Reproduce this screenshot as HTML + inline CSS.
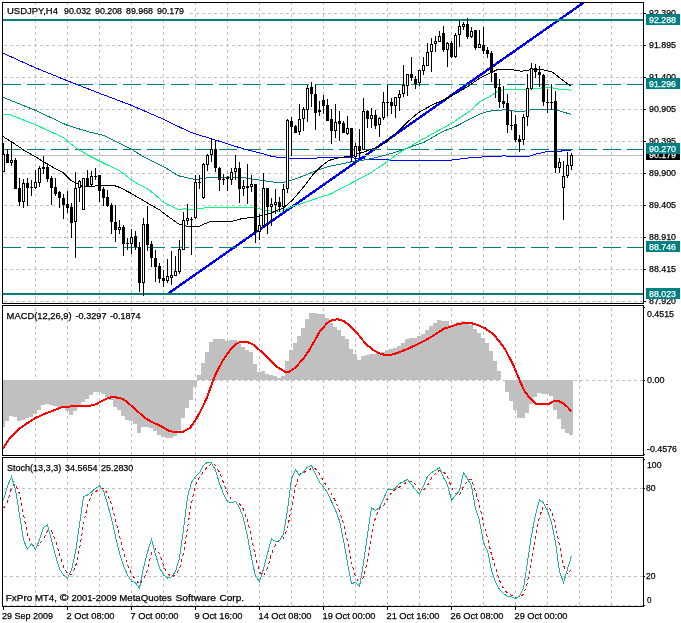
<!DOCTYPE html>
<html><head><meta charset="utf-8"><title>USDJPY,H4</title>
<style>html,body{margin:0;padding:0;background:#fff;overflow:hidden}svg text{white-space:pre;will-change:transform;stroke-width:.25px}</style></head>
<body>
<svg width="681" height="623" viewBox="0 0 681 623" shape-rendering="crispEdges" font-family="'Liberation Sans', sans-serif" style="display:block">
<rect x="0" y="0" width="681" height="623" fill="#fff"/>
<line x1="35.5" x2="35.5" y1="3" y2="303" stroke="#c0c0c0" stroke-dasharray="3 3" stroke-dashoffset="1"/>
<line x1="67.5" x2="67.5" y1="3" y2="303" stroke="#c0c0c0" stroke-dasharray="3 3" stroke-dashoffset="1"/>
<line x1="99.5" x2="99.5" y1="3" y2="303" stroke="#c0c0c0" stroke-dasharray="3 3" stroke-dashoffset="1"/>
<line x1="131.5" x2="131.5" y1="3" y2="303" stroke="#c0c0c0" stroke-dasharray="3 3" stroke-dashoffset="1"/>
<line x1="163.5" x2="163.5" y1="3" y2="303" stroke="#c0c0c0" stroke-dasharray="3 3" stroke-dashoffset="1"/>
<line x1="195.5" x2="195.5" y1="3" y2="303" stroke="#c0c0c0" stroke-dasharray="3 3" stroke-dashoffset="1"/>
<line x1="227.5" x2="227.5" y1="3" y2="303" stroke="#c0c0c0" stroke-dasharray="3 3" stroke-dashoffset="1"/>
<line x1="259.5" x2="259.5" y1="3" y2="303" stroke="#c0c0c0" stroke-dasharray="3 3" stroke-dashoffset="1"/>
<line x1="291.5" x2="291.5" y1="3" y2="303" stroke="#c0c0c0" stroke-dasharray="3 3" stroke-dashoffset="1"/>
<line x1="323.5" x2="323.5" y1="3" y2="303" stroke="#c0c0c0" stroke-dasharray="3 3" stroke-dashoffset="1"/>
<line x1="355.5" x2="355.5" y1="3" y2="303" stroke="#c0c0c0" stroke-dasharray="3 3" stroke-dashoffset="1"/>
<line x1="387.5" x2="387.5" y1="3" y2="303" stroke="#c0c0c0" stroke-dasharray="3 3" stroke-dashoffset="1"/>
<line x1="419.5" x2="419.5" y1="3" y2="303" stroke="#c0c0c0" stroke-dasharray="3 3" stroke-dashoffset="1"/>
<line x1="451.5" x2="451.5" y1="3" y2="303" stroke="#c0c0c0" stroke-dasharray="3 3" stroke-dashoffset="1"/>
<line x1="483.5" x2="483.5" y1="3" y2="303" stroke="#c0c0c0" stroke-dasharray="3 3" stroke-dashoffset="1"/>
<line x1="515.5" x2="515.5" y1="3" y2="303" stroke="#c0c0c0" stroke-dasharray="3 3" stroke-dashoffset="1"/>
<line x1="547.5" x2="547.5" y1="3" y2="303" stroke="#c0c0c0" stroke-dasharray="3 3" stroke-dashoffset="1"/>
<line x1="579.5" x2="579.5" y1="3" y2="303" stroke="#c0c0c0" stroke-dasharray="3 3" stroke-dashoffset="1"/>
<line x1="611.5" x2="611.5" y1="3" y2="303" stroke="#c0c0c0" stroke-dasharray="3 3" stroke-dashoffset="1"/>
<line x1="35.5" x2="35.5" y1="306" y2="455" stroke="#c0c0c0" stroke-dasharray="3 3" stroke-dashoffset="4"/>
<line x1="67.5" x2="67.5" y1="306" y2="455" stroke="#c0c0c0" stroke-dasharray="3 3" stroke-dashoffset="4"/>
<line x1="99.5" x2="99.5" y1="306" y2="455" stroke="#c0c0c0" stroke-dasharray="3 3" stroke-dashoffset="4"/>
<line x1="131.5" x2="131.5" y1="306" y2="455" stroke="#c0c0c0" stroke-dasharray="3 3" stroke-dashoffset="4"/>
<line x1="163.5" x2="163.5" y1="306" y2="455" stroke="#c0c0c0" stroke-dasharray="3 3" stroke-dashoffset="4"/>
<line x1="195.5" x2="195.5" y1="306" y2="455" stroke="#c0c0c0" stroke-dasharray="3 3" stroke-dashoffset="4"/>
<line x1="227.5" x2="227.5" y1="306" y2="455" stroke="#c0c0c0" stroke-dasharray="3 3" stroke-dashoffset="4"/>
<line x1="259.5" x2="259.5" y1="306" y2="455" stroke="#c0c0c0" stroke-dasharray="3 3" stroke-dashoffset="4"/>
<line x1="291.5" x2="291.5" y1="306" y2="455" stroke="#c0c0c0" stroke-dasharray="3 3" stroke-dashoffset="4"/>
<line x1="323.5" x2="323.5" y1="306" y2="455" stroke="#c0c0c0" stroke-dasharray="3 3" stroke-dashoffset="4"/>
<line x1="355.5" x2="355.5" y1="306" y2="455" stroke="#c0c0c0" stroke-dasharray="3 3" stroke-dashoffset="4"/>
<line x1="387.5" x2="387.5" y1="306" y2="455" stroke="#c0c0c0" stroke-dasharray="3 3" stroke-dashoffset="4"/>
<line x1="419.5" x2="419.5" y1="306" y2="455" stroke="#c0c0c0" stroke-dasharray="3 3" stroke-dashoffset="4"/>
<line x1="451.5" x2="451.5" y1="306" y2="455" stroke="#c0c0c0" stroke-dasharray="3 3" stroke-dashoffset="4"/>
<line x1="483.5" x2="483.5" y1="306" y2="455" stroke="#c0c0c0" stroke-dasharray="3 3" stroke-dashoffset="4"/>
<line x1="515.5" x2="515.5" y1="306" y2="455" stroke="#c0c0c0" stroke-dasharray="3 3" stroke-dashoffset="4"/>
<line x1="547.5" x2="547.5" y1="306" y2="455" stroke="#c0c0c0" stroke-dasharray="3 3" stroke-dashoffset="4"/>
<line x1="579.5" x2="579.5" y1="306" y2="455" stroke="#c0c0c0" stroke-dasharray="3 3" stroke-dashoffset="4"/>
<line x1="611.5" x2="611.5" y1="306" y2="455" stroke="#c0c0c0" stroke-dasharray="3 3" stroke-dashoffset="4"/>
<line x1="35.5" x2="35.5" y1="458" y2="606" stroke="#c0c0c0" stroke-dasharray="3 3" stroke-dashoffset="0"/>
<line x1="67.5" x2="67.5" y1="458" y2="606" stroke="#c0c0c0" stroke-dasharray="3 3" stroke-dashoffset="0"/>
<line x1="99.5" x2="99.5" y1="458" y2="606" stroke="#c0c0c0" stroke-dasharray="3 3" stroke-dashoffset="0"/>
<line x1="131.5" x2="131.5" y1="458" y2="606" stroke="#c0c0c0" stroke-dasharray="3 3" stroke-dashoffset="0"/>
<line x1="163.5" x2="163.5" y1="458" y2="606" stroke="#c0c0c0" stroke-dasharray="3 3" stroke-dashoffset="0"/>
<line x1="195.5" x2="195.5" y1="458" y2="606" stroke="#c0c0c0" stroke-dasharray="3 3" stroke-dashoffset="0"/>
<line x1="227.5" x2="227.5" y1="458" y2="606" stroke="#c0c0c0" stroke-dasharray="3 3" stroke-dashoffset="0"/>
<line x1="259.5" x2="259.5" y1="458" y2="606" stroke="#c0c0c0" stroke-dasharray="3 3" stroke-dashoffset="0"/>
<line x1="291.5" x2="291.5" y1="458" y2="606" stroke="#c0c0c0" stroke-dasharray="3 3" stroke-dashoffset="0"/>
<line x1="323.5" x2="323.5" y1="458" y2="606" stroke="#c0c0c0" stroke-dasharray="3 3" stroke-dashoffset="0"/>
<line x1="355.5" x2="355.5" y1="458" y2="606" stroke="#c0c0c0" stroke-dasharray="3 3" stroke-dashoffset="0"/>
<line x1="387.5" x2="387.5" y1="458" y2="606" stroke="#c0c0c0" stroke-dasharray="3 3" stroke-dashoffset="0"/>
<line x1="419.5" x2="419.5" y1="458" y2="606" stroke="#c0c0c0" stroke-dasharray="3 3" stroke-dashoffset="0"/>
<line x1="451.5" x2="451.5" y1="458" y2="606" stroke="#c0c0c0" stroke-dasharray="3 3" stroke-dashoffset="0"/>
<line x1="483.5" x2="483.5" y1="458" y2="606" stroke="#c0c0c0" stroke-dasharray="3 3" stroke-dashoffset="0"/>
<line x1="515.5" x2="515.5" y1="458" y2="606" stroke="#c0c0c0" stroke-dasharray="3 3" stroke-dashoffset="0"/>
<line x1="547.5" x2="547.5" y1="458" y2="606" stroke="#c0c0c0" stroke-dasharray="3 3" stroke-dashoffset="0"/>
<line x1="579.5" x2="579.5" y1="458" y2="606" stroke="#c0c0c0" stroke-dasharray="3 3" stroke-dashoffset="0"/>
<line x1="611.5" x2="611.5" y1="458" y2="606" stroke="#c0c0c0" stroke-dasharray="3 3" stroke-dashoffset="0"/>
<line x1="4" x2="643" y1="13.5" y2="13.5" stroke="#c0c0c0" stroke-dasharray="3 3"/>
<line x1="4" x2="643" y1="45.5" y2="45.5" stroke="#c0c0c0" stroke-dasharray="3 3"/>
<line x1="4" x2="643" y1="77.5" y2="77.5" stroke="#c0c0c0" stroke-dasharray="3 3"/>
<line x1="4" x2="643" y1="109.5" y2="109.5" stroke="#c0c0c0" stroke-dasharray="3 3"/>
<line x1="4" x2="643" y1="141.5" y2="141.5" stroke="#c0c0c0" stroke-dasharray="3 3"/>
<line x1="4" x2="643" y1="173.5" y2="173.5" stroke="#c0c0c0" stroke-dasharray="3 3"/>
<line x1="4" x2="643" y1="205.5" y2="205.5" stroke="#c0c0c0" stroke-dasharray="3 3"/>
<line x1="4" x2="643" y1="237.5" y2="237.5" stroke="#c0c0c0" stroke-dasharray="3 3"/>
<line x1="4" x2="643" y1="269.5" y2="269.5" stroke="#c0c0c0" stroke-dasharray="3 3"/>
<line x1="4" x2="643" y1="301.5" y2="301.5" stroke="#c0c0c0" stroke-dasharray="3 3"/>
<line x1="4" x2="643" y1="380.5" y2="380.5" stroke="#c0c0c0" stroke-dasharray="3 3"/>
<line x1="4" x2="643" y1="488.5" y2="488.5" stroke="#c0c0c0" stroke-dasharray="3 3"/>
<line x1="4" x2="643" y1="576.5" y2="576.5" stroke="#c0c0c0" stroke-dasharray="3 3"/>
<line x1="4" x2="643" y1="605.5" y2="605.5" stroke="#c0c0c0" stroke-dasharray="3 3"/>
<clipPath id="cm"><rect x="3" y="3" width="640" height="300"/></clipPath>
<g clip-path="url(#cm)">
<line x1="168.7" y1="293.2" x2="583.4" y2="2.8" stroke="#0000ff" stroke-width="2.4"/>
<rect x="3" y="155" width="640" height="1" fill="#c0c0c0"/>
<rect x="3" y="19" width="640" height="2" fill="#008080"/>
<rect x="3" y="293" width="640" height="2" fill="#008080"/>
<line x1="3" x2="643" y1="84.5" y2="84.5" stroke="#008080" stroke-dasharray="18 6"/>
<line x1="3" x2="643" y1="149.5" y2="149.5" stroke="#008080" stroke-dasharray="18 6"/>
<line x1="3" x2="643" y1="247.5" y2="247.5" stroke="#008080" stroke-dasharray="18 6"/>
<polyline points="2.5,53.0 35.0,67.6 67.0,80.6 99.0,93.1 131.0,105.2 163.0,119.0 170.0,122.7 186.0,130.0 190.0,132.2 211.8,138.9 243.5,148.9 259.8,152.9 271.6,156.3 280.0,157.6 297.6,158.5 333.0,157.6 350.0,157.6 368.0,159.3 388.8,160.0 452.0,160.0 471.0,157.6 490.0,156.6 501.0,156.6 502.5,155.5 505.4,155.5 507.0,156.6 528.2,156.6 534.0,154.6 541.4,152.8 547.3,151.5 554.6,151.3 571.0,150.6" fill="none" stroke="#0000ff" stroke-width="1"/>
<polyline points="2.5,97.1 35.0,110.2 67.0,125.2 90.0,132.2 103.3,135.2 116.6,141.8 131.4,149.2 143.2,156.6 163.9,166.9 178.6,175.8 190.0,178.4 194.8,179.5 209.5,177.6 228.7,177.0 243.5,177.6 259.8,180.2 274.3,182.2 284.7,182.2 296.5,178.5 308.3,174.0 318.6,169.6 329.3,166.4 350.5,162.0 368.0,159.4 385.7,155.0 393.5,152.9 424.0,142.3 442.4,131.6 455.7,126.5 470.0,119.0 480.0,114.1 488.9,111.2 505.1,109.7 519.9,111.9 533.2,109.4 545.0,109.0 558.3,110.4 571.0,114.4" fill="none" stroke="#008080" stroke-width="1"/>
<polyline points="2.5,114.7 10.0,114.7 35.0,124.5 63.5,137.6 76.8,148.5 90.0,156.3 104.8,163.7 119.5,170.6 132.8,181.0 149.0,189.8 163.9,202.4 178.6,209.8 184.5,208.8 190.0,209.8 194.8,209.0 209.5,207.5 227.3,208.0 243.5,207.5 253.9,207.5 262.7,209.8 271.6,211.2 281.7,211.0 292.0,206.5 303.9,202.8 318.6,197.7 330.0,194.3 368.0,174.4 385.7,162.9 400.0,152.3 419.3,141.1 436.5,131.6 452.7,122.7 470.0,110.9 480.0,101.6 488.9,97.1 497.7,91.2 505.1,89.3 521.4,89.8 536.1,88.3 550.9,87.5 559.8,89.3 571.0,90.2" fill="none" stroke="#00ff7f" stroke-width="1"/>
<polyline points="2.0,136.0 13.0,142.7 23.6,150.0 35.5,156.8 47.0,164.0 63.5,173.0 71.0,180.4 77.0,183.3 83.0,187.0 90.0,186.9 98.9,185.4 113.6,185.4 119.5,187.3 131.4,193.5 149.0,203.9 159.4,209.8 168.4,216.6 178.7,224.0 183.2,224.8 189.0,227.0 199.4,226.2 210.5,221.3 231.7,221.3 242.0,218.6 253.9,217.1 264.0,215.4 274.3,211.7 283.2,208.0 292.0,200.6 303.9,186.6 312.7,174.8 321.6,165.9 329.3,160.3 340.0,157.6 350.5,156.2 362.8,152.3 375.2,147.9 385.7,142.6 398.0,131.3 408.4,121.2 418.7,112.4 432.0,105.0 443.9,99.8 452.7,95.4 461.6,90.2 470.0,85.1 480.0,77.9 487.4,74.2 497.7,69.5 509.5,69.1 521.4,71.3 530.2,69.8 542.0,69.5 552.4,72.0 562.7,80.2 571.0,86.1" fill="none" stroke="#000" stroke-width="1"/>
<rect x="3" y="143" width="1" height="29" fill="#000"/>
<rect x="2" y="154" width="3" height="18" fill="#000"/>
<rect x="3" y="155" width="1" height="16" fill="#fff"/>
<rect x="7" y="149" width="1" height="14" fill="#000"/>
<rect x="6" y="154" width="3" height="9" fill="#000"/>
<rect x="11" y="142" width="1" height="24" fill="#000"/>
<rect x="10" y="160" width="3" height="3" fill="#000"/>
<rect x="11" y="161" width="1" height="1" fill="#fff"/>
<rect x="15" y="158" width="1" height="31" fill="#000"/>
<rect x="14" y="160" width="3" height="29" fill="#000"/>
<rect x="19" y="178" width="1" height="28" fill="#000"/>
<rect x="18" y="188" width="3" height="14" fill="#000"/>
<rect x="23" y="179" width="1" height="29" fill="#000"/>
<rect x="22" y="183" width="3" height="19" fill="#000"/>
<rect x="23" y="184" width="1" height="17" fill="#fff"/>
<rect x="27" y="178" width="1" height="28" fill="#000"/>
<rect x="26" y="183" width="3" height="5" fill="#000"/>
<rect x="31" y="180" width="1" height="16" fill="#000"/>
<rect x="30" y="187" width="3" height="1" fill="#000"/>
<rect x="35" y="170" width="1" height="19" fill="#000"/>
<rect x="34" y="182" width="3" height="6" fill="#000"/>
<rect x="35" y="183" width="1" height="4" fill="#fff"/>
<rect x="39" y="166" width="1" height="21" fill="#000"/>
<rect x="38" y="168" width="3" height="15" fill="#000"/>
<rect x="39" y="169" width="1" height="13" fill="#fff"/>
<rect x="43" y="156" width="1" height="18" fill="#000"/>
<rect x="42" y="167" width="3" height="2" fill="#000"/>
<rect x="47" y="163" width="1" height="19" fill="#000"/>
<rect x="46" y="167" width="3" height="12" fill="#000"/>
<rect x="51" y="176" width="1" height="29" fill="#000"/>
<rect x="50" y="178" width="3" height="10" fill="#000"/>
<rect x="55" y="178" width="1" height="18" fill="#000"/>
<rect x="54" y="187" width="3" height="7" fill="#000"/>
<rect x="59" y="191" width="1" height="17" fill="#000"/>
<rect x="58" y="192" width="3" height="6" fill="#000"/>
<rect x="63" y="194" width="1" height="25" fill="#000"/>
<rect x="62" y="198" width="3" height="7" fill="#000"/>
<rect x="67" y="191" width="1" height="22" fill="#000"/>
<rect x="66" y="204" width="3" height="4" fill="#000"/>
<rect x="71" y="203" width="1" height="35" fill="#000"/>
<rect x="70" y="207" width="3" height="16" fill="#000"/>
<rect x="75" y="172" width="1" height="86" fill="#000"/>
<rect x="74" y="188" width="3" height="34" fill="#000"/>
<rect x="75" y="189" width="1" height="32" fill="#fff"/>
<rect x="79" y="180" width="1" height="22" fill="#000"/>
<rect x="78" y="181" width="3" height="7" fill="#000"/>
<rect x="79" y="182" width="1" height="5" fill="#fff"/>
<rect x="83" y="178" width="1" height="32" fill="#000"/>
<rect x="82" y="178" width="3" height="32" fill="#000"/>
<rect x="83" y="179" width="1" height="30" fill="#fff"/>
<rect x="87" y="170" width="1" height="16" fill="#000"/>
<rect x="86" y="178" width="3" height="8" fill="#000"/>
<rect x="91" y="171" width="1" height="15" fill="#000"/>
<rect x="90" y="176" width="3" height="9" fill="#000"/>
<rect x="91" y="177" width="1" height="7" fill="#fff"/>
<rect x="95" y="168" width="1" height="12" fill="#000"/>
<rect x="94" y="176" width="3" height="1" fill="#000"/>
<rect x="99" y="175" width="1" height="27" fill="#000"/>
<rect x="98" y="175" width="3" height="16" fill="#000"/>
<rect x="103" y="187" width="1" height="19" fill="#000"/>
<rect x="102" y="189" width="3" height="9" fill="#000"/>
<rect x="107" y="190" width="1" height="17" fill="#000"/>
<rect x="106" y="197" width="3" height="9" fill="#000"/>
<rect x="111" y="203" width="1" height="31" fill="#000"/>
<rect x="110" y="205" width="3" height="17" fill="#000"/>
<rect x="115" y="205" width="1" height="37" fill="#000"/>
<rect x="114" y="222" width="3" height="8" fill="#000"/>
<rect x="119" y="220" width="1" height="14" fill="#000"/>
<rect x="118" y="227" width="3" height="3" fill="#000"/>
<rect x="119" y="228" width="1" height="1" fill="#fff"/>
<rect x="123" y="225" width="1" height="31" fill="#000"/>
<rect x="122" y="227" width="3" height="17" fill="#000"/>
<rect x="127" y="238" width="1" height="12" fill="#000"/>
<rect x="126" y="243" width="3" height="1" fill="#000"/>
<rect x="131" y="229" width="1" height="25" fill="#000"/>
<rect x="130" y="237" width="3" height="7" fill="#000"/>
<rect x="131" y="238" width="1" height="5" fill="#fff"/>
<rect x="135" y="231" width="1" height="19" fill="#000"/>
<rect x="134" y="236" width="3" height="11" fill="#000"/>
<rect x="139" y="242" width="1" height="50" fill="#000"/>
<rect x="138" y="247" width="3" height="36" fill="#000"/>
<rect x="143" y="218" width="1" height="78" fill="#000"/>
<rect x="142" y="224" width="3" height="59" fill="#000"/>
<rect x="143" y="225" width="1" height="57" fill="#fff"/>
<rect x="147" y="206" width="1" height="45" fill="#000"/>
<rect x="146" y="224" width="3" height="21" fill="#000"/>
<rect x="151" y="241" width="1" height="26" fill="#000"/>
<rect x="150" y="244" width="3" height="14" fill="#000"/>
<rect x="155" y="250" width="1" height="32" fill="#000"/>
<rect x="154" y="258" width="3" height="9" fill="#000"/>
<rect x="159" y="263" width="1" height="20" fill="#000"/>
<rect x="158" y="266" width="3" height="13" fill="#000"/>
<rect x="163" y="270" width="1" height="17" fill="#000"/>
<rect x="162" y="278" width="3" height="3" fill="#000"/>
<rect x="167" y="259" width="1" height="24" fill="#000"/>
<rect x="166" y="276" width="3" height="5" fill="#000"/>
<rect x="167" y="277" width="1" height="3" fill="#fff"/>
<rect x="171" y="251" width="1" height="34" fill="#000"/>
<rect x="170" y="275" width="3" height="3" fill="#000"/>
<rect x="171" y="276" width="1" height="1" fill="#fff"/>
<rect x="175" y="256" width="1" height="20" fill="#000"/>
<rect x="174" y="271" width="3" height="5" fill="#000"/>
<rect x="175" y="272" width="1" height="3" fill="#fff"/>
<rect x="179" y="240" width="1" height="34" fill="#000"/>
<rect x="178" y="249" width="3" height="23" fill="#000"/>
<rect x="179" y="250" width="1" height="21" fill="#fff"/>
<rect x="183" y="212" width="1" height="38" fill="#000"/>
<rect x="182" y="220" width="3" height="30" fill="#000"/>
<rect x="183" y="221" width="1" height="28" fill="#fff"/>
<rect x="187" y="204" width="1" height="21" fill="#000"/>
<rect x="186" y="218" width="3" height="3" fill="#000"/>
<rect x="187" y="219" width="1" height="1" fill="#fff"/>
<rect x="191" y="217" width="1" height="38" fill="#000"/>
<rect x="190" y="219" width="3" height="1" fill="#000"/>
<rect x="195" y="175" width="1" height="44" fill="#000"/>
<rect x="194" y="182" width="3" height="36" fill="#000"/>
<rect x="195" y="183" width="1" height="34" fill="#fff"/>
<rect x="199" y="175" width="1" height="14" fill="#000"/>
<rect x="198" y="182" width="3" height="1" fill="#000"/>
<rect x="203" y="163" width="1" height="36" fill="#000"/>
<rect x="202" y="164" width="3" height="34" fill="#000"/>
<rect x="203" y="165" width="1" height="32" fill="#fff"/>
<rect x="207" y="154" width="1" height="17" fill="#000"/>
<rect x="206" y="155" width="3" height="10" fill="#000"/>
<rect x="207" y="156" width="1" height="8" fill="#fff"/>
<rect x="211" y="138" width="1" height="24" fill="#000"/>
<rect x="210" y="149" width="3" height="6" fill="#000"/>
<rect x="211" y="150" width="1" height="4" fill="#fff"/>
<rect x="215" y="140" width="1" height="32" fill="#000"/>
<rect x="214" y="149" width="3" height="19" fill="#000"/>
<rect x="219" y="167" width="1" height="24" fill="#000"/>
<rect x="218" y="168" width="3" height="12" fill="#000"/>
<rect x="223" y="174" width="1" height="11" fill="#000"/>
<rect x="222" y="179" width="3" height="1" fill="#000"/>
<rect x="227" y="176" width="1" height="15" fill="#000"/>
<rect x="226" y="177" width="3" height="2" fill="#000"/>
<rect x="231" y="168" width="1" height="17" fill="#000"/>
<rect x="230" y="172" width="3" height="8" fill="#000"/>
<rect x="231" y="173" width="1" height="6" fill="#fff"/>
<rect x="235" y="155" width="1" height="25" fill="#000"/>
<rect x="234" y="168" width="3" height="4" fill="#000"/>
<rect x="235" y="169" width="1" height="2" fill="#fff"/>
<rect x="239" y="162" width="1" height="41" fill="#000"/>
<rect x="238" y="168" width="3" height="21" fill="#000"/>
<rect x="243" y="180" width="1" height="16" fill="#000"/>
<rect x="242" y="186" width="3" height="3" fill="#000"/>
<rect x="243" y="187" width="1" height="1" fill="#fff"/>
<rect x="247" y="164" width="1" height="40" fill="#000"/>
<rect x="246" y="186" width="3" height="2" fill="#000"/>
<rect x="251" y="175" width="1" height="17" fill="#000"/>
<rect x="250" y="184" width="3" height="3" fill="#000"/>
<rect x="251" y="185" width="1" height="1" fill="#fff"/>
<rect x="255" y="184" width="1" height="59" fill="#000"/>
<rect x="254" y="184" width="3" height="48" fill="#000"/>
<rect x="259" y="214" width="1" height="26" fill="#000"/>
<rect x="258" y="225" width="3" height="7" fill="#000"/>
<rect x="259" y="226" width="1" height="5" fill="#fff"/>
<rect x="263" y="173" width="1" height="55" fill="#000"/>
<rect x="262" y="188" width="3" height="38" fill="#000"/>
<rect x="263" y="189" width="1" height="36" fill="#fff"/>
<rect x="267" y="188" width="1" height="46" fill="#000"/>
<rect x="266" y="188" width="3" height="19" fill="#000"/>
<rect x="271" y="198" width="1" height="28" fill="#000"/>
<rect x="270" y="204" width="3" height="3" fill="#000"/>
<rect x="271" y="205" width="1" height="1" fill="#fff"/>
<rect x="275" y="189" width="1" height="25" fill="#000"/>
<rect x="274" y="202" width="3" height="3" fill="#000"/>
<rect x="275" y="203" width="1" height="1" fill="#fff"/>
<rect x="279" y="197" width="1" height="15" fill="#000"/>
<rect x="278" y="202" width="3" height="5" fill="#000"/>
<rect x="283" y="184" width="1" height="27" fill="#000"/>
<rect x="282" y="189" width="3" height="18" fill="#000"/>
<rect x="283" y="190" width="1" height="16" fill="#fff"/>
<rect x="287" y="119" width="1" height="74" fill="#000"/>
<rect x="286" y="120" width="3" height="69" fill="#000"/>
<rect x="287" y="121" width="1" height="67" fill="#fff"/>
<rect x="291" y="117" width="1" height="39" fill="#000"/>
<rect x="290" y="121" width="3" height="6" fill="#000"/>
<rect x="295" y="125" width="1" height="8" fill="#000"/>
<rect x="294" y="126" width="3" height="7" fill="#000"/>
<rect x="299" y="104" width="1" height="31" fill="#000"/>
<rect x="298" y="119" width="3" height="13" fill="#000"/>
<rect x="299" y="120" width="1" height="11" fill="#fff"/>
<rect x="303" y="107" width="1" height="24" fill="#000"/>
<rect x="302" y="109" width="3" height="10" fill="#000"/>
<rect x="303" y="110" width="1" height="8" fill="#fff"/>
<rect x="307" y="85" width="1" height="37" fill="#000"/>
<rect x="306" y="88" width="3" height="22" fill="#000"/>
<rect x="307" y="89" width="1" height="20" fill="#fff"/>
<rect x="311" y="82" width="1" height="25" fill="#000"/>
<rect x="310" y="87" width="3" height="7" fill="#000"/>
<rect x="315" y="85" width="1" height="45" fill="#000"/>
<rect x="314" y="94" width="3" height="19" fill="#000"/>
<rect x="319" y="101" width="1" height="15" fill="#000"/>
<rect x="318" y="110" width="3" height="2" fill="#000"/>
<rect x="323" y="95" width="1" height="19" fill="#000"/>
<rect x="322" y="100" width="3" height="6" fill="#000"/>
<rect x="327" y="99" width="1" height="22" fill="#000"/>
<rect x="326" y="105" width="3" height="16" fill="#000"/>
<rect x="331" y="109" width="1" height="35" fill="#000"/>
<rect x="330" y="119" width="3" height="12" fill="#000"/>
<rect x="335" y="104" width="1" height="34" fill="#000"/>
<rect x="334" y="122" width="3" height="9" fill="#000"/>
<rect x="335" y="123" width="1" height="7" fill="#fff"/>
<rect x="339" y="111" width="1" height="30" fill="#000"/>
<rect x="338" y="121" width="3" height="3" fill="#000"/>
<rect x="343" y="121" width="1" height="12" fill="#000"/>
<rect x="342" y="123" width="3" height="10" fill="#000"/>
<rect x="347" y="116" width="1" height="19" fill="#000"/>
<rect x="346" y="128" width="3" height="6" fill="#000"/>
<rect x="347" y="129" width="1" height="4" fill="#fff"/>
<rect x="351" y="128" width="1" height="34" fill="#000"/>
<rect x="350" y="128" width="3" height="29" fill="#000"/>
<rect x="355" y="143" width="1" height="20" fill="#000"/>
<rect x="354" y="146" width="3" height="11" fill="#000"/>
<rect x="355" y="147" width="1" height="9" fill="#fff"/>
<rect x="359" y="129" width="1" height="29" fill="#000"/>
<rect x="358" y="146" width="3" height="5" fill="#000"/>
<rect x="363" y="98" width="1" height="52" fill="#000"/>
<rect x="362" y="111" width="3" height="39" fill="#000"/>
<rect x="363" y="112" width="1" height="37" fill="#fff"/>
<rect x="367" y="110" width="1" height="18" fill="#000"/>
<rect x="366" y="111" width="3" height="8" fill="#000"/>
<rect x="371" y="108" width="1" height="20" fill="#000"/>
<rect x="370" y="115" width="3" height="4" fill="#000"/>
<rect x="371" y="116" width="1" height="2" fill="#fff"/>
<rect x="375" y="110" width="1" height="19" fill="#000"/>
<rect x="374" y="115" width="3" height="11" fill="#000"/>
<rect x="379" y="117" width="1" height="20" fill="#000"/>
<rect x="378" y="118" width="3" height="7" fill="#000"/>
<rect x="379" y="119" width="1" height="5" fill="#fff"/>
<rect x="383" y="92" width="1" height="28" fill="#000"/>
<rect x="382" y="102" width="3" height="16" fill="#000"/>
<rect x="383" y="103" width="1" height="14" fill="#fff"/>
<rect x="387" y="85" width="1" height="31" fill="#000"/>
<rect x="386" y="102" width="3" height="1" fill="#000"/>
<rect x="391" y="98" width="1" height="16" fill="#000"/>
<rect x="390" y="102" width="3" height="4" fill="#000"/>
<rect x="395" y="97" width="1" height="21" fill="#000"/>
<rect x="394" y="97" width="3" height="9" fill="#000"/>
<rect x="395" y="98" width="1" height="7" fill="#fff"/>
<rect x="399" y="90" width="1" height="21" fill="#000"/>
<rect x="398" y="94" width="3" height="4" fill="#000"/>
<rect x="399" y="95" width="1" height="2" fill="#fff"/>
<rect x="403" y="65" width="1" height="32" fill="#000"/>
<rect x="402" y="85" width="3" height="9" fill="#000"/>
<rect x="403" y="86" width="1" height="7" fill="#fff"/>
<rect x="407" y="74" width="1" height="22" fill="#000"/>
<rect x="406" y="74" width="3" height="12" fill="#000"/>
<rect x="407" y="75" width="1" height="10" fill="#fff"/>
<rect x="411" y="57" width="1" height="24" fill="#000"/>
<rect x="410" y="74" width="3" height="4" fill="#000"/>
<rect x="415" y="76" width="1" height="13" fill="#000"/>
<rect x="414" y="79" width="3" height="5" fill="#000"/>
<rect x="419" y="70" width="1" height="16" fill="#000"/>
<rect x="418" y="70" width="3" height="13" fill="#000"/>
<rect x="419" y="71" width="1" height="11" fill="#fff"/>
<rect x="423" y="57" width="1" height="18" fill="#000"/>
<rect x="422" y="65" width="3" height="6" fill="#000"/>
<rect x="423" y="66" width="1" height="4" fill="#fff"/>
<rect x="427" y="43" width="1" height="23" fill="#000"/>
<rect x="426" y="52" width="3" height="14" fill="#000"/>
<rect x="427" y="53" width="1" height="12" fill="#fff"/>
<rect x="431" y="38" width="1" height="34" fill="#000"/>
<rect x="430" y="44" width="3" height="8" fill="#000"/>
<rect x="431" y="45" width="1" height="6" fill="#fff"/>
<rect x="435" y="36" width="1" height="16" fill="#000"/>
<rect x="434" y="41" width="3" height="3" fill="#000"/>
<rect x="435" y="42" width="1" height="1" fill="#fff"/>
<rect x="439" y="31" width="1" height="11" fill="#000"/>
<rect x="438" y="36" width="3" height="6" fill="#000"/>
<rect x="439" y="37" width="1" height="4" fill="#fff"/>
<rect x="443" y="26" width="1" height="26" fill="#000"/>
<rect x="442" y="33" width="3" height="17" fill="#000"/>
<rect x="447" y="42" width="1" height="25" fill="#000"/>
<rect x="446" y="43" width="3" height="7" fill="#000"/>
<rect x="447" y="44" width="1" height="5" fill="#fff"/>
<rect x="451" y="41" width="1" height="17" fill="#000"/>
<rect x="450" y="43" width="3" height="14" fill="#000"/>
<rect x="455" y="33" width="1" height="25" fill="#000"/>
<rect x="454" y="35" width="3" height="22" fill="#000"/>
<rect x="455" y="36" width="1" height="20" fill="#fff"/>
<rect x="459" y="20" width="1" height="27" fill="#000"/>
<rect x="458" y="26" width="3" height="9" fill="#000"/>
<rect x="459" y="27" width="1" height="7" fill="#fff"/>
<rect x="463" y="22" width="1" height="8" fill="#000"/>
<rect x="462" y="24" width="3" height="3" fill="#000"/>
<rect x="463" y="25" width="1" height="1" fill="#fff"/>
<rect x="467" y="18" width="1" height="21" fill="#000"/>
<rect x="466" y="24" width="3" height="13" fill="#000"/>
<rect x="471" y="27" width="1" height="11" fill="#000"/>
<rect x="470" y="31" width="3" height="6" fill="#000"/>
<rect x="471" y="32" width="1" height="4" fill="#fff"/>
<rect x="475" y="30" width="1" height="20" fill="#000"/>
<rect x="474" y="30" width="3" height="18" fill="#000"/>
<rect x="479" y="30" width="1" height="18" fill="#000"/>
<rect x="478" y="44" width="3" height="4" fill="#000"/>
<rect x="479" y="45" width="1" height="2" fill="#fff"/>
<rect x="483" y="27" width="1" height="27" fill="#000"/>
<rect x="482" y="45" width="3" height="6" fill="#000"/>
<rect x="487" y="47" width="1" height="11" fill="#000"/>
<rect x="486" y="50" width="3" height="4" fill="#000"/>
<rect x="491" y="51" width="1" height="31" fill="#000"/>
<rect x="490" y="53" width="3" height="20" fill="#000"/>
<rect x="495" y="73" width="1" height="25" fill="#000"/>
<rect x="494" y="73" width="3" height="15" fill="#000"/>
<rect x="499" y="79" width="1" height="29" fill="#000"/>
<rect x="498" y="87" width="3" height="15" fill="#000"/>
<rect x="503" y="86" width="1" height="22" fill="#000"/>
<rect x="502" y="101" width="3" height="3" fill="#000"/>
<rect x="507" y="94" width="1" height="39" fill="#000"/>
<rect x="506" y="103" width="3" height="22" fill="#000"/>
<rect x="511" y="111" width="1" height="19" fill="#000"/>
<rect x="510" y="125" width="3" height="1" fill="#000"/>
<rect x="515" y="115" width="1" height="27" fill="#000"/>
<rect x="514" y="124" width="3" height="16" fill="#000"/>
<rect x="519" y="135" width="1" height="17" fill="#000"/>
<rect x="518" y="139" width="3" height="3" fill="#000"/>
<rect x="523" y="114" width="1" height="31" fill="#000"/>
<rect x="522" y="117" width="3" height="23" fill="#000"/>
<rect x="523" y="118" width="1" height="21" fill="#fff"/>
<rect x="527" y="74" width="1" height="52" fill="#000"/>
<rect x="526" y="88" width="3" height="29" fill="#000"/>
<rect x="527" y="89" width="1" height="27" fill="#fff"/>
<rect x="531" y="63" width="1" height="27" fill="#000"/>
<rect x="530" y="68" width="3" height="21" fill="#000"/>
<rect x="531" y="69" width="1" height="19" fill="#fff"/>
<rect x="535" y="64" width="1" height="14" fill="#000"/>
<rect x="534" y="68" width="3" height="4" fill="#000"/>
<rect x="539" y="66" width="1" height="21" fill="#000"/>
<rect x="538" y="72" width="3" height="3" fill="#000"/>
<rect x="543" y="74" width="1" height="32" fill="#000"/>
<rect x="542" y="75" width="3" height="27" fill="#000"/>
<rect x="547" y="89" width="1" height="24" fill="#000"/>
<rect x="546" y="102" width="3" height="1" fill="#000"/>
<rect x="551" y="84" width="1" height="26" fill="#000"/>
<rect x="550" y="102" width="3" height="1" fill="#000"/>
<rect x="555" y="91" width="1" height="82" fill="#000"/>
<rect x="554" y="101" width="3" height="67" fill="#000"/>
<rect x="559" y="158" width="1" height="15" fill="#000"/>
<rect x="558" y="162" width="3" height="6" fill="#000"/>
<rect x="559" y="163" width="1" height="4" fill="#fff"/>
<rect x="563" y="161" width="1" height="59" fill="#000"/>
<rect x="562" y="176" width="3" height="12" fill="#000"/>
<rect x="563" y="177" width="1" height="10" fill="#fff"/>
<rect x="567" y="152" width="1" height="26" fill="#000"/>
<rect x="566" y="165" width="3" height="11" fill="#000"/>
<rect x="567" y="166" width="1" height="9" fill="#fff"/>
<rect x="571" y="153" width="1" height="17" fill="#000"/>
<rect x="570" y="155" width="3" height="11" fill="#000"/>
<rect x="571" y="156" width="1" height="9" fill="#fff"/>
</g>
<rect x="5" y="5" width="182" height="11" fill="#fff"/>
<text x="7" y="14" fill="#000" stroke="#000" font-size="9.3" textLength="51" lengthAdjust="spacingAndGlyphs">USDJPY,H4</text>
<text x="64" y="14" fill="#000" stroke="#000" font-size="9.3" textLength="27" lengthAdjust="spacingAndGlyphs">90.032</text>
<text x="95" y="14" fill="#000" stroke="#000" font-size="9.3" textLength="27" lengthAdjust="spacingAndGlyphs">90.208</text>
<text x="126" y="14" fill="#000" stroke="#000" font-size="9.3" textLength="27" lengthAdjust="spacingAndGlyphs">89.968</text>
<text x="157" y="14" fill="#000" stroke="#000" font-size="9.3" textLength="27" lengthAdjust="spacingAndGlyphs">90.179</text>
<rect x="3" y="380" width="2" height="47" fill="#c0c0c0"/>
<rect x="5" y="380" width="4" height="41" fill="#c0c0c0"/>
<rect x="9" y="380" width="4" height="36" fill="#c0c0c0"/>
<rect x="13" y="380" width="4" height="37" fill="#c0c0c0"/>
<rect x="17" y="380" width="4" height="41" fill="#c0c0c0"/>
<rect x="21" y="380" width="4" height="40" fill="#c0c0c0"/>
<rect x="25" y="380" width="4" height="38" fill="#c0c0c0"/>
<rect x="29" y="380" width="4" height="37" fill="#c0c0c0"/>
<rect x="33" y="380" width="4" height="34" fill="#c0c0c0"/>
<rect x="37" y="380" width="4" height="30" fill="#c0c0c0"/>
<rect x="41" y="380" width="4" height="25" fill="#c0c0c0"/>
<rect x="45" y="380" width="4" height="24" fill="#c0c0c0"/>
<rect x="49" y="380" width="4" height="25" fill="#c0c0c0"/>
<rect x="53" y="380" width="4" height="26" fill="#c0c0c0"/>
<rect x="57" y="380" width="4" height="27" fill="#c0c0c0"/>
<rect x="61" y="380" width="4" height="28" fill="#c0c0c0"/>
<rect x="65" y="380" width="4" height="31" fill="#c0c0c0"/>
<rect x="69" y="380" width="4" height="35" fill="#c0c0c0"/>
<rect x="73" y="380" width="4" height="31" fill="#c0c0c0"/>
<rect x="77" y="380" width="4" height="26" fill="#c0c0c0"/>
<rect x="81" y="380" width="4" height="22" fill="#c0c0c0"/>
<rect x="85" y="380" width="4" height="19" fill="#c0c0c0"/>
<rect x="89" y="380" width="4" height="15" fill="#c0c0c0"/>
<rect x="93" y="380" width="4" height="12" fill="#c0c0c0"/>
<rect x="97" y="380" width="4" height="12" fill="#c0c0c0"/>
<rect x="101" y="380" width="4" height="14" fill="#c0c0c0"/>
<rect x="105" y="380" width="4" height="17" fill="#c0c0c0"/>
<rect x="109" y="380" width="4" height="20" fill="#c0c0c0"/>
<rect x="113" y="380" width="4" height="27" fill="#c0c0c0"/>
<rect x="117" y="380" width="4" height="30" fill="#c0c0c0"/>
<rect x="121" y="380" width="4" height="36" fill="#c0c0c0"/>
<rect x="125" y="380" width="4" height="40" fill="#c0c0c0"/>
<rect x="129" y="380" width="4" height="41" fill="#c0c0c0"/>
<rect x="133" y="380" width="4" height="44" fill="#c0c0c0"/>
<rect x="137" y="380" width="4" height="53" fill="#c0c0c0"/>
<rect x="141" y="380" width="4" height="47" fill="#c0c0c0"/>
<rect x="145" y="380" width="4" height="47" fill="#c0c0c0"/>
<rect x="149" y="380" width="4" height="48" fill="#c0c0c0"/>
<rect x="153" y="380" width="4" height="51" fill="#c0c0c0"/>
<rect x="157" y="380" width="4" height="55" fill="#c0c0c0"/>
<rect x="161" y="380" width="4" height="57" fill="#c0c0c0"/>
<rect x="165" y="380" width="4" height="58" fill="#c0c0c0"/>
<rect x="169" y="380" width="4" height="58" fill="#c0c0c0"/>
<rect x="173" y="380" width="4" height="56" fill="#c0c0c0"/>
<rect x="177" y="380" width="4" height="50" fill="#c0c0c0"/>
<rect x="181" y="380" width="4" height="38" fill="#c0c0c0"/>
<rect x="185" y="380" width="4" height="28" fill="#c0c0c0"/>
<rect x="189" y="380" width="4" height="20" fill="#c0c0c0"/>
<rect x="193" y="380" width="4" height="7" fill="#c0c0c0"/>
<rect x="197" y="375" width="4" height="5" fill="#c0c0c0"/>
<rect x="201" y="363" width="4" height="17" fill="#c0c0c0"/>
<rect x="205" y="352" width="4" height="28" fill="#c0c0c0"/>
<rect x="209" y="342" width="4" height="38" fill="#c0c0c0"/>
<rect x="213" y="339" width="4" height="41" fill="#c0c0c0"/>
<rect x="217" y="339" width="4" height="41" fill="#c0c0c0"/>
<rect x="221" y="339" width="4" height="41" fill="#c0c0c0"/>
<rect x="225" y="341" width="4" height="39" fill="#c0c0c0"/>
<rect x="229" y="340" width="4" height="40" fill="#c0c0c0"/>
<rect x="233" y="340" width="4" height="40" fill="#c0c0c0"/>
<rect x="237" y="344" width="4" height="36" fill="#c0c0c0"/>
<rect x="241" y="347" width="4" height="33" fill="#c0c0c0"/>
<rect x="245" y="350" width="4" height="30" fill="#c0c0c0"/>
<rect x="249" y="352" width="4" height="28" fill="#c0c0c0"/>
<rect x="253" y="364" width="4" height="16" fill="#c0c0c0"/>
<rect x="257" y="372" width="4" height="8" fill="#c0c0c0"/>
<rect x="261" y="371" width="4" height="9" fill="#c0c0c0"/>
<rect x="265" y="374" width="4" height="6" fill="#c0c0c0"/>
<rect x="269" y="375" width="4" height="5" fill="#c0c0c0"/>
<rect x="273" y="376" width="4" height="4" fill="#c0c0c0"/>
<rect x="277" y="378" width="4" height="2" fill="#c0c0c0"/>
<rect x="281" y="376" width="4" height="4" fill="#c0c0c0"/>
<rect x="285" y="361" width="4" height="19" fill="#c0c0c0"/>
<rect x="289" y="350" width="4" height="30" fill="#c0c0c0"/>
<rect x="293" y="343" width="4" height="37" fill="#c0c0c0"/>
<rect x="297" y="336" width="4" height="44" fill="#c0c0c0"/>
<rect x="301" y="328" width="4" height="52" fill="#c0c0c0"/>
<rect x="305" y="319" width="4" height="61" fill="#c0c0c0"/>
<rect x="309" y="313" width="4" height="67" fill="#c0c0c0"/>
<rect x="313" y="313" width="4" height="67" fill="#c0c0c0"/>
<rect x="317" y="314" width="4" height="66" fill="#c0c0c0"/>
<rect x="321" y="314" width="4" height="66" fill="#c0c0c0"/>
<rect x="325" y="318" width="4" height="62" fill="#c0c0c0"/>
<rect x="329" y="323" width="4" height="57" fill="#c0c0c0"/>
<rect x="333" y="327" width="4" height="53" fill="#c0c0c0"/>
<rect x="337" y="330" width="4" height="50" fill="#c0c0c0"/>
<rect x="341" y="336" width="4" height="44" fill="#c0c0c0"/>
<rect x="345" y="339" width="4" height="41" fill="#c0c0c0"/>
<rect x="349" y="349" width="4" height="31" fill="#c0c0c0"/>
<rect x="353" y="354" width="4" height="26" fill="#c0c0c0"/>
<rect x="357" y="360" width="4" height="20" fill="#c0c0c0"/>
<rect x="361" y="356" width="4" height="24" fill="#c0c0c0"/>
<rect x="365" y="355" width="4" height="25" fill="#c0c0c0"/>
<rect x="369" y="354" width="4" height="26" fill="#c0c0c0"/>
<rect x="373" y="354" width="4" height="26" fill="#c0c0c0"/>
<rect x="377" y="354" width="4" height="26" fill="#c0c0c0"/>
<rect x="381" y="352" width="4" height="28" fill="#c0c0c0"/>
<rect x="385" y="350" width="4" height="30" fill="#c0c0c0"/>
<rect x="389" y="349" width="4" height="31" fill="#c0c0c0"/>
<rect x="393" y="348" width="4" height="32" fill="#c0c0c0"/>
<rect x="397" y="346" width="4" height="34" fill="#c0c0c0"/>
<rect x="401" y="343" width="4" height="37" fill="#c0c0c0"/>
<rect x="405" y="339" width="4" height="41" fill="#c0c0c0"/>
<rect x="409" y="338" width="4" height="42" fill="#c0c0c0"/>
<rect x="413" y="338" width="4" height="42" fill="#c0c0c0"/>
<rect x="417" y="336" width="4" height="44" fill="#c0c0c0"/>
<rect x="421" y="334" width="4" height="46" fill="#c0c0c0"/>
<rect x="425" y="330" width="4" height="50" fill="#c0c0c0"/>
<rect x="429" y="326" width="4" height="54" fill="#c0c0c0"/>
<rect x="433" y="323" width="4" height="57" fill="#c0c0c0"/>
<rect x="437" y="320" width="4" height="60" fill="#c0c0c0"/>
<rect x="441" y="321" width="4" height="59" fill="#c0c0c0"/>
<rect x="445" y="321" width="4" height="59" fill="#c0c0c0"/>
<rect x="449" y="325" width="4" height="55" fill="#c0c0c0"/>
<rect x="453" y="324" width="4" height="56" fill="#c0c0c0"/>
<rect x="457" y="322" width="4" height="58" fill="#c0c0c0"/>
<rect x="461" y="321" width="4" height="59" fill="#c0c0c0"/>
<rect x="465" y="324" width="4" height="56" fill="#c0c0c0"/>
<rect x="469" y="325" width="4" height="55" fill="#c0c0c0"/>
<rect x="473" y="329" width="4" height="51" fill="#c0c0c0"/>
<rect x="477" y="333" width="4" height="47" fill="#c0c0c0"/>
<rect x="481" y="338" width="4" height="42" fill="#c0c0c0"/>
<rect x="485" y="343" width="4" height="37" fill="#c0c0c0"/>
<rect x="489" y="351" width="4" height="29" fill="#c0c0c0"/>
<rect x="493" y="361" width="4" height="19" fill="#c0c0c0"/>
<rect x="497" y="371" width="4" height="9" fill="#c0c0c0"/>
<rect x="505" y="380" width="4" height="12" fill="#c0c0c0"/>
<rect x="509" y="380" width="4" height="21" fill="#c0c0c0"/>
<rect x="513" y="380" width="4" height="30" fill="#c0c0c0"/>
<rect x="517" y="380" width="4" height="38" fill="#c0c0c0"/>
<rect x="521" y="380" width="4" height="38" fill="#c0c0c0"/>
<rect x="525" y="380" width="4" height="33" fill="#c0c0c0"/>
<rect x="529" y="380" width="4" height="24" fill="#c0c0c0"/>
<rect x="533" y="380" width="4" height="17" fill="#c0c0c0"/>
<rect x="537" y="380" width="4" height="13" fill="#c0c0c0"/>
<rect x="541" y="380" width="4" height="14" fill="#c0c0c0"/>
<rect x="545" y="380" width="4" height="14" fill="#c0c0c0"/>
<rect x="549" y="380" width="4" height="16" fill="#c0c0c0"/>
<rect x="553" y="380" width="4" height="30" fill="#c0c0c0"/>
<rect x="557" y="380" width="4" height="39" fill="#c0c0c0"/>
<rect x="561" y="380" width="4" height="49" fill="#c0c0c0"/>
<rect x="565" y="380" width="4" height="53" fill="#c0c0c0"/>
<rect x="569" y="380" width="4" height="55" fill="#c0c0c0"/>
<polyline points="3.0,448.3 8.9,439.4 14.8,433.5 20.7,427.6 29.5,421.7 35.5,418.0 44.3,414.0 53.2,410.6 60.6,407.7 65.0,406.6 87.1,406.2 90.0,405.7 95.9,404.3 101.8,401.0 107.7,398.1 113.6,396.9 122.5,398.8 126.9,401.8 134.3,408.4 140.2,413.6 146.1,418.7 152.0,422.0 160.9,426.1 169.8,431.3 175.7,432.0 183.0,431.7 190.0,427.9 195.0,421.0 200.0,412.0 204.0,404.0 207.3,396.6 211.0,386.2 215.5,374.4 222.8,360.4 230.2,350.0 236.1,344.1 240.6,341.6 246.5,341.6 253.9,344.9 261.2,351.5 268.6,358.9 274.5,364.8 277.4,367.0 284.8,371.8 289.2,371.8 295.1,367.8 302.5,359.7 308.4,351.5 314.3,341.2 320.2,330.8 327.6,322.7 332.0,320.1 337.9,319.3 343.9,321.2 349.8,325.7 357.1,333.1 363.0,340.5 365.9,344.1 373.3,350.0 379.2,353.4 385.1,354.9 391.0,354.9 398.4,352.6 407.3,349.0 416.1,344.9 425.0,340.5 433.9,335.3 444.2,328.6 451.6,326.4 457.4,324.2 464.8,323.0 470.7,323.0 478.0,325.0 485.5,328.6 492.8,333.8 498.7,340.5 504.7,348.6 509.0,356.7 513.5,365.6 517.2,374.4 520.9,383.3 524.7,391.4 529.9,398.1 535.8,403.7 549.1,403.7 553.5,401.3 558.7,401.0 563.9,403.7 568.3,407.7 571.2,411.4" fill="none" stroke="#ff0000" stroke-width="2" stroke-linejoin="round"/>
<text x="6.6" y="319" fill="#000" stroke="#000" font-size="9.3" textLength="65" lengthAdjust="spacingAndGlyphs">MACD(12,26,9)</text>
<text x="75.5" y="319" fill="#000" stroke="#000" font-size="9.3" textLength="31" lengthAdjust="spacingAndGlyphs">-0.3297</text>
<text x="110" y="319" fill="#000" stroke="#000" font-size="9.3" textLength="30.5" lengthAdjust="spacingAndGlyphs">-0.1874</text>
<polyline points="3.5,508.3 7.5,502.2 11.5,487.7 15.5,484.0 19.5,493.7 23.5,514.8 27.5,534.6 31.5,544.2 35.5,547.2 39.5,544.2 43.5,538.8 47.5,530.8 51.5,530.8 55.5,540.2 59.5,554.9 63.5,566.6 67.5,574.0 71.5,574.4 75.5,566.8 79.5,548.9 83.5,524.4 87.5,505.4 91.5,494.6 95.5,491.8 99.5,488.7 103.5,488.3 107.5,493.5 111.5,504.4 115.5,519.6 119.5,536.1 123.5,551.7 127.5,564.6 131.5,573.8 135.5,579.6 139.5,584.0 143.5,579.6 147.5,569.4 151.5,553.1 155.5,548.7 159.5,553.9 163.5,565.8 167.5,573.6 171.5,576.6 175.5,575.4 179.5,568.7 183.5,552.9 187.5,528.0 191.5,502.8 195.5,485.3 199.5,477.2 203.5,471.6 207.5,466.8 211.5,463.6 215.5,465.2 219.5,472.3 223.5,482.7 227.5,493.1 231.5,499.5 235.5,501.9 239.5,504.0 243.5,509.2 247.5,520.8 251.5,537.7 255.5,556.9 259.5,572.0 263.5,575.6 267.5,568.0 271.5,553.7 275.5,544.5 279.5,540.3 283.5,538.7 287.5,528.3 291.5,507.6 295.5,486.1 299.5,474.4 303.5,472.2 307.5,471.4 311.5,468.2 315.5,468.8 319.5,473.9 323.5,481.1 327.5,487.3 331.5,493.8 335.5,501.4 339.5,510.8 343.5,523.6 347.5,541.3 351.5,562.3 355.5,576.4 359.5,584.2 363.5,577.2 367.5,561.2 371.5,534.9 375.5,517.4 379.5,508.5 383.5,505.7 387.5,498.7 391.5,492.7 395.5,489.1 399.5,487.1 403.5,484.5 407.5,481.5 411.5,481.9 415.5,484.5 419.5,489.5 423.5,489.9 427.5,485.5 431.5,478.3 435.5,473.1 439.5,470.2 443.5,471.8 447.5,476.7 451.5,487.5 455.5,493.5 459.5,495.5 463.5,486.3 467.5,480.7 471.5,479.1 475.5,491.1 479.5,505.2 483.5,524.0 487.5,538.1 491.5,554.5 495.5,567.8 499.5,580.6 503.5,588.5 507.5,593.1 511.5,595.5 515.5,597.1 519.5,597.1 523.5,594.3 527.5,582.1 531.5,561.7 535.5,537.3 539.5,516.6 543.5,505.8 547.5,504.4 551.5,511.7 555.5,525.0 559.5,545.3 563.5,565.5 567.5,574.3 571.5,569.1" fill="none" stroke="#ff0000" stroke-width="1" stroke-dasharray="3 3"/>
<polyline points="3.5,500.3 7.5,485.9 11.5,476.7 15.5,489.5 19.5,514.8 23.5,540.1 27.5,549.0 31.5,543.7 35.5,549.0 39.5,540.1 43.5,527.3 47.5,524.9 51.5,540.1 55.5,555.7 59.5,569.0 63.5,575.0 67.5,578.1 71.5,570.2 75.5,552.1 79.5,524.4 83.5,496.7 87.5,495.0 91.5,491.9 95.5,488.3 99.5,485.9 103.5,490.7 107.5,504.0 111.5,518.4 115.5,536.5 119.5,553.3 123.5,565.4 127.5,575.0 131.5,581.0 135.5,582.7 139.5,588.2 143.5,567.8 147.5,552.1 151.5,539.4 155.5,554.5 159.5,567.8 163.5,575.0 167.5,578.1 171.5,576.7 175.5,571.4 179.5,558.1 183.5,529.2 187.5,496.7 191.5,482.3 195.5,476.7 199.5,472.7 203.5,465.4 207.5,462.3 211.5,463.0 215.5,470.2 219.5,483.5 223.5,494.3 227.5,501.5 231.5,502.8 235.5,501.5 239.5,507.6 243.5,518.4 247.5,536.5 251.5,558.1 255.5,576.2 259.5,581.7 263.5,569.0 267.5,553.3 271.5,538.9 275.5,541.3 279.5,540.8 283.5,534.1 287.5,510.0 291.5,478.7 295.5,469.5 299.5,475.1 303.5,471.9 307.5,467.1 311.5,465.4 315.5,473.9 319.5,482.3 323.5,487.1 327.5,492.6 331.5,501.5 335.5,510.0 339.5,520.8 343.5,540.1 347.5,562.9 351.5,583.9 355.5,582.2 359.5,586.5 363.5,562.9 367.5,534.1 371.5,507.6 375.5,510.5 379.5,507.6 383.5,499.1 387.5,489.5 391.5,489.5 395.5,488.3 399.5,483.5 403.5,481.6 407.5,479.4 411.5,484.7 415.5,489.5 419.5,494.3 423.5,485.9 427.5,476.3 431.5,472.7 435.5,470.2 439.5,467.8 443.5,477.5 447.5,484.7 451.5,500.3 455.5,495.5 459.5,490.7 463.5,472.7 467.5,478.7 471.5,485.9 475.5,508.8 479.5,520.8 483.5,542.5 487.5,550.9 491.5,570.2 495.5,582.2 499.5,589.4 503.5,593.8 507.5,596.2 511.5,596.7 515.5,598.6 519.5,596.2 523.5,588.2 527.5,561.7 531.5,535.3 535.5,514.8 539.5,499.9 543.5,502.8 547.5,510.5 551.5,522.0 555.5,542.5 559.5,571.4 563.5,582.7 567.5,569.0 571.5,555.7" fill="none" stroke="#20b2aa" stroke-width="1"/>
<text x="7" y="471" fill="#000" stroke="#000" font-size="9.3" textLength="54.2" lengthAdjust="spacingAndGlyphs">Stoch(13,3,3)</text>
<text x="65" y="471" fill="#000" stroke="#000" font-size="9.3" textLength="32.4" lengthAdjust="spacingAndGlyphs">34.5654</text>
<text x="101" y="471" fill="#000" stroke="#000" font-size="9.3" textLength="32.3" lengthAdjust="spacingAndGlyphs">25.2830</text>
<text x="5.7" y="601" fill="#000" stroke="#000" font-size="9.3" textLength="26.6" lengthAdjust="spacingAndGlyphs">FxPro</text>
<text x="34.9" y="601" fill="#000" stroke="#000" font-size="9.3" textLength="22" lengthAdjust="spacingAndGlyphs">MT4,</text>
<text x="59.8" y="601" fill="#000" stroke="#000" font-size="9.3" textLength="8.8" lengthAdjust="spacingAndGlyphs">&#169;</text>
<text x="71.6" y="601" fill="#000" stroke="#000" font-size="9.3" textLength="45.1" lengthAdjust="spacingAndGlyphs">2001-2009</text>
<text x="119.3" y="601" fill="#000" stroke="#000" font-size="9.3" textLength="52.5" lengthAdjust="spacingAndGlyphs">MetaQuotes</text>
<text x="175.5" y="601" fill="#000" stroke="#000" font-size="9.3" textLength="40.4" lengthAdjust="spacingAndGlyphs">Software</text>
<text x="219.5" y="601" fill="#000" stroke="#000" font-size="9.3" textLength="24.6" lengthAdjust="spacingAndGlyphs">Corp.</text>
<rect x="2" y="2" width="642" height="1" fill="#000"/>
<rect x="2" y="303" width="642" height="1" fill="#000"/>
<rect x="2" y="2" width="1" height="302" fill="#000"/>
<rect x="643" y="2" width="1" height="302" fill="#000"/>
<rect x="2" y="305" width="642" height="1" fill="#000"/>
<rect x="2" y="455" width="642" height="1" fill="#000"/>
<rect x="2" y="305" width="1" height="151" fill="#000"/>
<rect x="643" y="305" width="1" height="151" fill="#000"/>
<rect x="2" y="457" width="642" height="1" fill="#000"/>
<rect x="2" y="606" width="642" height="1" fill="#000"/>
<rect x="2" y="457" width="1" height="150" fill="#000"/>
<rect x="643" y="457" width="1" height="150" fill="#000"/>
<rect x="644" y="13" width="2" height="1" fill="#000"/>
<rect x="644" y="45" width="2" height="1" fill="#000"/>
<rect x="644" y="77" width="2" height="1" fill="#000"/>
<rect x="644" y="109" width="2" height="1" fill="#000"/>
<rect x="644" y="141" width="2" height="1" fill="#000"/>
<rect x="644" y="173" width="2" height="1" fill="#000"/>
<rect x="644" y="205" width="2" height="1" fill="#000"/>
<rect x="644" y="237" width="2" height="1" fill="#000"/>
<rect x="644" y="269" width="2" height="1" fill="#000"/>
<rect x="644" y="301" width="2" height="1" fill="#000"/>
<rect x="644" y="307" width="1" height="1" fill="#000"/>
<rect x="644" y="380" width="1" height="1" fill="#000"/>
<rect x="644" y="454" width="1" height="1" fill="#000"/>
<rect x="644" y="459" width="1" height="1" fill="#000"/>
<rect x="644" y="488" width="1" height="1" fill="#000"/>
<rect x="644" y="576" width="1" height="1" fill="#000"/>
<rect x="644" y="605" width="1" height="1" fill="#000"/>
<rect x="3" y="607" width="1" height="3" fill="#000"/>
<rect x="67" y="607" width="1" height="3" fill="#000"/>
<rect x="131" y="607" width="1" height="3" fill="#000"/>
<rect x="195" y="607" width="1" height="3" fill="#000"/>
<rect x="259" y="607" width="1" height="3" fill="#000"/>
<rect x="323" y="607" width="1" height="3" fill="#000"/>
<rect x="387" y="607" width="1" height="3" fill="#000"/>
<rect x="451" y="607" width="1" height="3" fill="#000"/>
<rect x="515" y="607" width="1" height="3" fill="#000"/>
<text x="649" y="16" fill="#000" stroke="#000" font-size="9.3" textLength="27" lengthAdjust="spacingAndGlyphs">92.390</text>
<text x="649" y="48" fill="#000" stroke="#000" font-size="9.3" textLength="27" lengthAdjust="spacingAndGlyphs">91.895</text>
<text x="649" y="80" fill="#000" stroke="#000" font-size="9.3" textLength="27" lengthAdjust="spacingAndGlyphs">91.400</text>
<text x="649" y="112" fill="#000" stroke="#000" font-size="9.3" textLength="27" lengthAdjust="spacingAndGlyphs">90.905</text>
<text x="649" y="144" fill="#000" stroke="#000" font-size="9.3" textLength="27" lengthAdjust="spacingAndGlyphs">90.395</text>
<text x="649" y="176" fill="#000" stroke="#000" font-size="9.3" textLength="27" lengthAdjust="spacingAndGlyphs">89.900</text>
<text x="649" y="208" fill="#000" stroke="#000" font-size="9.3" textLength="27" lengthAdjust="spacingAndGlyphs">89.405</text>
<text x="649" y="240" fill="#000" stroke="#000" font-size="9.3" textLength="27" lengthAdjust="spacingAndGlyphs">88.910</text>
<text x="649" y="272" fill="#000" stroke="#000" font-size="9.3" textLength="27" lengthAdjust="spacingAndGlyphs">88.415</text>
<text x="649" y="304" fill="#000" stroke="#000" font-size="9.3" textLength="27" lengthAdjust="spacingAndGlyphs">87.920</text>
<text x="647" y="317" fill="#000" stroke="#000" font-size="9.3" textLength="27" lengthAdjust="spacingAndGlyphs">0.4515</text>
<text x="647" y="383" fill="#000" stroke="#000" font-size="9.3" textLength="17.5" lengthAdjust="spacingAndGlyphs">0.00</text>
<text x="647" y="452" fill="#000" stroke="#000" font-size="9.3" textLength="30" lengthAdjust="spacingAndGlyphs">-0.4576</text>
<text x="647" y="468" fill="#000" stroke="#000" font-size="9.3" textLength="14.5" lengthAdjust="spacingAndGlyphs">100</text>
<text x="646" y="491" fill="#000" stroke="#000" font-size="9.3" textLength="9.5" lengthAdjust="spacingAndGlyphs">80</text>
<text x="646" y="579" fill="#000" stroke="#000" font-size="9.3" textLength="9.5" lengthAdjust="spacingAndGlyphs">20</text>
<text x="647" y="603" fill="#000" stroke="#000" font-size="9.3" textLength="4.5" lengthAdjust="spacingAndGlyphs">0</text>
<rect x="646" y="149" width="34" height="11" fill="#000"/>
<text x="649" y="158" fill="#fff" stroke="#fff" font-size="9.3" textLength="27" lengthAdjust="spacingAndGlyphs">90.179</text>
<rect x="646" y="14" width="34" height="11" fill="#008080"/>
<text x="649" y="23" fill="#fff" stroke="#fff" font-size="9.3" textLength="27" lengthAdjust="spacingAndGlyphs">92.288</text>
<rect x="646" y="78" width="34" height="11" fill="#008080"/>
<text x="649" y="87" fill="#fff" stroke="#fff" font-size="9.3" textLength="27" lengthAdjust="spacingAndGlyphs">91.296</text>
<rect x="646" y="143" width="34" height="11" fill="#008080"/>
<text x="649" y="152" fill="#fff" stroke="#fff" font-size="9.3" textLength="27" lengthAdjust="spacingAndGlyphs">90.270</text>
<rect x="646" y="241" width="34" height="11" fill="#008080"/>
<text x="649" y="250" fill="#fff" stroke="#fff" font-size="9.3" textLength="27" lengthAdjust="spacingAndGlyphs">88.746</text>
<rect x="646" y="288" width="34" height="11" fill="#008080"/>
<text x="649" y="297" fill="#fff" stroke="#fff" font-size="9.3" textLength="27" lengthAdjust="spacingAndGlyphs">88.023</text>
<text x="2" y="619" fill="#000" stroke="#000" font-size="9.3" textLength="51" lengthAdjust="spacingAndGlyphs">29 Sep 2009</text>
<text x="66.5" y="619" fill="#000" stroke="#000" font-size="9.3" textLength="48" lengthAdjust="spacingAndGlyphs">2 Oct 08:00</text>
<text x="130.5" y="619" fill="#000" stroke="#000" font-size="9.3" textLength="48" lengthAdjust="spacingAndGlyphs">7 Oct 00:00</text>
<text x="194.5" y="619" fill="#000" stroke="#000" font-size="9.3" textLength="48" lengthAdjust="spacingAndGlyphs">9 Oct 16:00</text>
<text x="258.5" y="619" fill="#000" stroke="#000" font-size="9.3" textLength="53" lengthAdjust="spacingAndGlyphs">14 Oct 08:00</text>
<text x="322.5" y="619" fill="#000" stroke="#000" font-size="9.3" textLength="53" lengthAdjust="spacingAndGlyphs">19 Oct 00:00</text>
<text x="386.5" y="619" fill="#000" stroke="#000" font-size="9.3" textLength="53" lengthAdjust="spacingAndGlyphs">21 Oct 16:00</text>
<text x="450.5" y="619" fill="#000" stroke="#000" font-size="9.3" textLength="53" lengthAdjust="spacingAndGlyphs">26 Oct 08:00</text>
<text x="514.5" y="619" fill="#000" stroke="#000" font-size="9.3" textLength="53" lengthAdjust="spacingAndGlyphs">29 Oct 00:00</text>
</svg>
</body></html>
